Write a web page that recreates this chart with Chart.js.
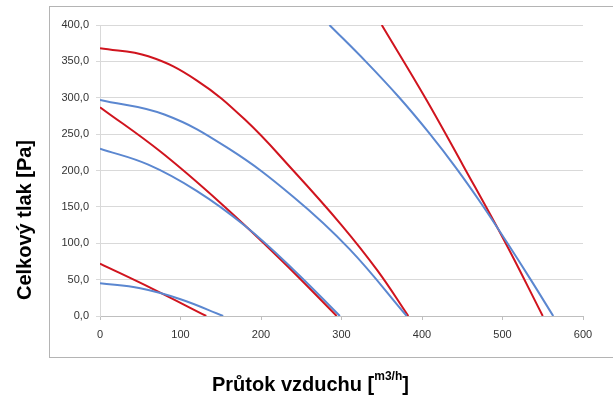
<!DOCTYPE html>
<html>
<head>
<meta charset="utf-8">
<script src="https://cdn.jsdelivr.net/npm/chart.js@4.4.1/dist/chart.umd.min.js"></script>
<style>
  body { margin: 0; background: #fff; }
  #wrap { width: 613px; height: 400px; }
</style>
</head>
<body>
<div id="wrap"><canvas id="tlakChart" width="613" height="400"></canvas></div>
<script>
// Odečtené hodnoty z grafu (průtok m3/h -> tlak Pa)
const modra1X = [0, 50, 100, 153];
const modra1Y = [45, 38, 23, 0];

const cervena1X = [0, 66, 132];
const cervena1Y = [72, 37, 0];

const modra2X = [0, 60, 120, 180, 240, 298];
const modra2Y = [230, 208, 172, 124, 64, 0];

const cervena2X = [0, 75, 150, 225, 294];
const cervena2Y = [287, 226, 155, 77, 0];

const modra3X = [0, 80, 160, 240, 310, 381];
const modra3Y = [297, 277, 230, 164, 92, 0];

const cervena3X = [0, 60, 120, 180, 240, 300, 345, 383];
const cervena3Y = [368, 357, 324, 270, 200, 125, 62, 0];

const modra4X = [285, 330, 372, 410, 442, 474, 505, 535, 563];
const modra4Y = [400, 350, 300, 250, 204, 154, 102, 50, 0];

const cervena4X = [350, 404, 451, 503, 550];
const cervena4Y = [400, 300, 207, 102, 0];

const osaXTicks = [0, 100, 200, 300, 400, 500, 600];
const osaYTicks = [0, 50, 100, 150, 200, 250, 300, 350, 400];

const MODRA = '#5b87d0';
const CERVENA = '#d0141e';

function body(xs, ys) {
    return xs.map((x, i) => ({ x: x, y: ys[i] }));
}

function krivka(xs, ys, barva) {
    return {
        data: body(xs, ys),
        showLine: true,
        borderColor: barva,
        backgroundColor: barva,
        borderWidth: 2,
        pointRadius: 0,
        tension: 0.4
    };
}

// rámeček a popisky os (horní index u m3/h)
const ramecekPlugin = {
    id: 'ramecek',
    afterDraw(chart) {
        const ctx = chart.ctx;
        ctx.save();
        ctx.strokeStyle = '#b4b4b4';
        ctx.lineWidth = 1;
        ctx.strokeRect(49.5, 6.5, 600, 351);

        ctx.fillStyle = '#000';
        // popisek osy Y
        ctx.save();
        ctx.translate(25, 220);
        ctx.rotate(-Math.PI / 2);
        ctx.font = 'bold 20px "Liberation Sans", Arial, sans-serif';
        ctx.textAlign = 'center';
        ctx.textBaseline = 'middle';
        ctx.fillText('Celkový tlak [Pa]', 0, 0);
        ctx.restore();

        // popisek osy X
        let x = 212;
        const zaklad = 391;
        ctx.textAlign = 'left';
        ctx.textBaseline = 'alphabetic';
        ctx.font = 'bold 20px "Liberation Sans", Arial, sans-serif';
        const t1 = 'Průtok vzduchu [';
        ctx.fillText(t1, x, zaklad);
        x += ctx.measureText(t1).width;
        ctx.font = 'bold 12px "Liberation Sans", Arial, sans-serif';
        const t2 = 'm3/h';
        ctx.fillText(t2, x, zaklad - 11);
        x += ctx.measureText(t2).width;
        ctx.font = 'bold 20px "Liberation Sans", Arial, sans-serif';
        ctx.fillText(']', x, zaklad);
        ctx.restore();
    }
};

const ctx = document.getElementById('tlakChart').getContext('2d');
new Chart(ctx, {
    type: 'scatter',
    data: {
        datasets: [
            krivka(modra1X, modra1Y, MODRA),
            krivka(cervena1X, cervena1Y, CERVENA),
            krivka(modra2X, modra2Y, MODRA),
            krivka(cervena2X, cervena2Y, CERVENA),
            krivka(modra3X, modra3Y, MODRA),
            krivka(cervena3X, cervena3Y, CERVENA),
            krivka(modra4X, modra4Y, MODRA),
            krivka(cervena4X, cervena4Y, CERVENA)
        ]
    },
    options: {
        responsive: false,
        animation: false,
        layout: { padding: { left: 0, right: 30, top: 25, bottom: 0 } },
        plugins: {
            legend: { display: false },
            tooltip: { enabled: false }
        },
        scales: {
            x: {
                type: 'linear',
                min: 0,
                max: 600,
                afterBuildTicks: (scale) => { scale.ticks = osaXTicks.map(v => ({ value: v })); },
                afterFit: (scale) => { scale.height = 84; },
                ticks: {
                    color: '#333333',
                    font: { family: '"Liberation Sans", Arial, sans-serif', size: 11 },
                    padding: 8,
                    maxRotation: 0,
                    callback: (v) => String(v)
                },
                grid: {
                    drawOnChartArea: false,
                    drawTicks: true,
                    tickLength: 4,
                    color: '#bfbfbf'
                },
                border: { color: '#bfbfbf' }
            },
            y: {
                type: 'linear',
                min: 0,
                max: 400,
                afterBuildTicks: (scale) => { scale.ticks = osaYTicks.map(v => ({ value: v })); },
                afterFit: (scale) => { scale.width = 100; },
                ticks: {
                    color: '#333333',
                    font: { family: '"Liberation Sans", Arial, sans-serif', size: 11 },
                    padding: 7,
                    callback: (v) => v.toFixed(1).replace('.', ',')
                },
                grid: {
                    color: '#d9d9d9',
                    tickLength: 4
                },
                border: { color: '#d9d9d9' }
            }
        }
    },
    plugins: [ramecekPlugin]
});
</script>
</body>
</html>
